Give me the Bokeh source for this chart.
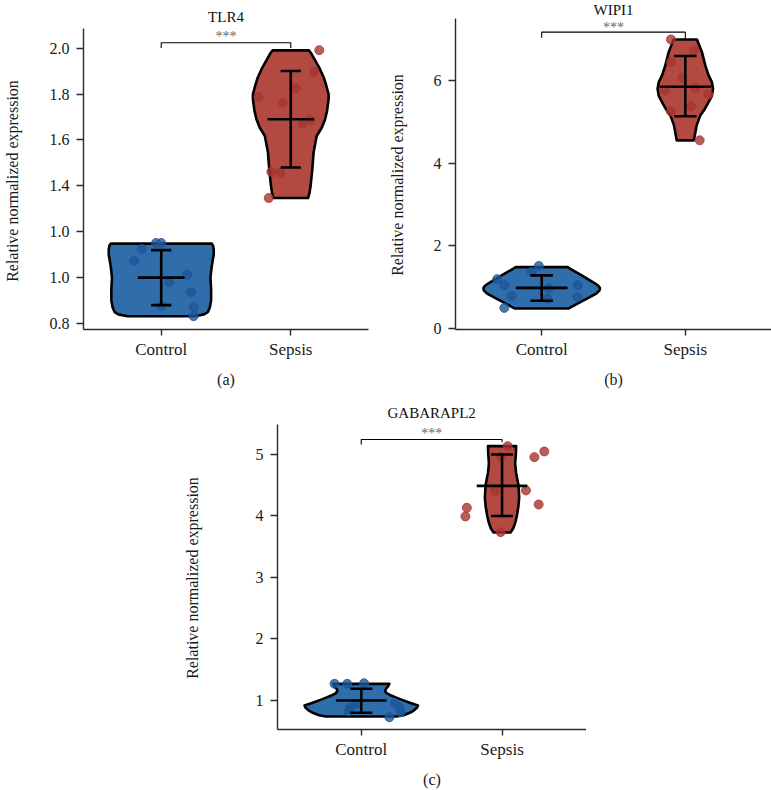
from bokeh.plotting import figure
from bokeh.models import FixedTicker, Label, Spacer
from bokeh.layouts import row, column
from bokeh.embed import file_html
from bokeh.resources import INLINE

groups = ["Control", "Sepsis"]
group_pos = [0, 1]
ylabel = "Relative normalized expression"

# ---- (a) TLR4
tlr4_ctrl = [1.151, 1.151, 1.125, 1.074, 1.013, 0.980, 0.936, 0.875, 0.871, 0.832]
tlr4_ctrl_jitter = [-0.04, 0.00, -0.15, -0.21, 0.20, 0.06, 0.23, 0.00, 0.25, 0.25]
tlr4_seps = [1.991, 1.896, 1.825, 1.787, 1.762, 1.671, 1.687, 1.461, 1.458, 1.347]
tlr4_seps_jitter = [0.22, 0.18, 0.04, -0.25, -0.06, 0.09, 0.15, -0.15, -0.08, -0.17]
tlr4_mean = [1.00, 1.69]
tlr4_sd_low = [0.88, 1.48]
tlr4_sd_high = [1.12, 1.90]
tlr4_ctrl_dens_y = [0.832, 0.840, 0.850, 0.870, 0.900, 0.950, 1.000, 1.050, 1.100, 1.125, 1.140, 1.148]
tlr4_ctrl_dens_w = [0.26, 0.33, 0.36, 0.375, 0.385, 0.385, 0.38, 0.39, 0.405, 0.405, 0.40, 0.39]
tlr4_seps_dens_y = [1.347, 1.37, 1.40, 1.47, 1.545, 1.617, 1.654, 1.69, 1.726, 1.777,
                    1.80, 1.835, 1.87, 1.907, 1.948, 1.975, 1.99]
tlr4_seps_dens_w = [0.134, 0.145, 0.153, 0.166, 0.176, 0.20, 0.24, 0.265, 0.28, 0.292,
                    0.292, 0.275, 0.256, 0.227, 0.187, 0.16, 0.141]
tlr4_ticks = [0.8, 1.0, 1.2, 1.4, 1.6, 1.8, 2.0]
tlr4_tick_labels = ["0.8", "1.0", "1.0", "1.4", "1.6", "1.8", "2.0"]
tlr4_bracket = [2.0, 2.0235, 2.0]

# ---- (b) WIPI1
wipi1_ctrl = [1.518, 1.374, 1.198, 1.053, 0.795, 0.506, 0.973, 0.733, 1.053, 0.771]
wipi1_ctrl_jitter = [-0.02, -0.07, -0.31, -0.26, -0.21, -0.26, 0.05, 0.04, 0.25, 0.25]
wipi1_seps = [6.98, 6.716, 6.434, 6.058, 5.752, 5.807, 5.655, 5.366, 5.246, 4.547]
wipi1_seps_jitter = [-0.10, 0.06, -0.10, -0.02, -0.14, 0.07, 0.16, 0.04, -0.10, 0.10]
wipi1_mean = [0.99, 5.84]
wipi1_sd_low = [0.68, 5.13]
wipi1_sd_high = [1.29, 6.58]
wipi1_ctrl_dens_y = [0.49, 0.55, 0.65, 0.75, 0.85, 0.93, 0.98, 1.04, 1.10, 1.20, 1.30, 1.40, 1.49]
wipi1_ctrl_dens_w = [0.186, 0.218, 0.272, 0.325, 0.38, 0.403, 0.406, 0.395, 0.37, 0.322, 0.273, 0.224, 0.18]
wipi1_seps_dens_y = [4.547, 4.70, 4.908, 5.149, 5.30, 5.47, 5.62, 5.79, 5.95, 6.113, 6.354, 6.675, 6.98]
wipi1_seps_dens_w = [0.06, 0.068, 0.079, 0.104, 0.135, 0.162, 0.185, 0.193, 0.185, 0.162, 0.139, 0.116, 0.081]
wipi1_ticks = [0, 2, 4, 6]
wipi1_tick_labels = ["0", "2", "4", "6"]
wipi1_bracket = [7.02, 7.157, 7.0]

# ---- (c) GABARAPL2
gab_ctrl = [1.271, 1.271, 1.281, 0.946, 0.881, 0.826, 0.956, 0.881, 0.810, 0.728]
gab_ctrl_jitter = [-0.19, -0.10, 0.02, -0.03, -0.08, -0.09, 0.24, 0.27, 0.28, 0.20]
gab_seps = [5.135, 4.967, 4.956, 5.049, 4.403, 4.415, 4.187, 4.133, 3.992, 3.737]
gab_seps_jitter = [0.04, -0.01, 0.23, 0.30, -0.05, 0.17, 0.26, -0.25, -0.26, -0.01]
gab_mean = [1.00, 4.49]
gab_sd_low = [0.80, 4.00]
gab_sd_high = [1.19, 5.00]
gab_ctrl_dens_y = [0.74, 0.76, 0.80, 0.84, 0.88, 0.92, 0.96, 1.01, 1.05, 1.08, 1.12, 1.15, 1.19, 1.23, 1.27]
gab_ctrl_dens_w = [0.25, 0.30, 0.345, 0.375, 0.395, 0.403, 0.35, 0.29, 0.245, 0.213, 0.18, 0.17, 0.175, 0.19, 0.20]
gab_seps_dens_y = [3.73, 3.80, 3.90, 4.00, 4.15, 4.30, 4.50, 4.70, 4.85, 5.00, 5.135]
gab_seps_dens_w = [0.06, 0.08, 0.095, 0.105, 0.116, 0.122, 0.117, 0.10, 0.093, 0.098, 0.10]
gab_ticks = [1, 2, 3, 4, 5]
gab_tick_labels = ["1", "2", "3", "4", "5"]
gab_bracket = [5.16, 5.244, 5.20]

CTRL_FILL = "#2f6eaa"
CTRL_DOT = "#1d5698"
SEPS_FILL = "#b24a42"
SEPS_DOT = "#a63530"
FONT = "Liberation Serif"
MEAN_HALF = 0.18
CAP_HALF = 0.078


def violin_outline(center, dens_y, dens_w):
    xs = [center + w for w in dens_w] + [center - w for w in reversed(dens_w)]
    ys = list(dens_y) + list(reversed(dens_y))
    return xs, ys


def make_panel(title, tag, ctrl, ctrl_jit, seps, seps_jit, ctrl_dens, seps_dens,
               mean, sd_low, sd_high, ticks, tick_labels, bracket,
               x_rng, y_rng, axis_top, width, height, borders, ylab_standoff,
               ylab_pad, title_y, star_y):
    # the frame runs up to the top of the canvas; the y axis line stops at axis_top
    p = figure(width=width, height=height, x_range=x_rng, y_range=y_rng,
               output_backend="svg", toolbar_location=None,
               min_border_left=borders[0], min_border_right=borders[1],
               min_border_top=borders[2], min_border_bottom=borders[3])
    p.outline_line_color = None
    p.grid.visible = False

    # violins
    for g, dens, fill in [(0, ctrl_dens, CTRL_FILL), (1, seps_dens, SEPS_FILL)]:
        xs, ys = violin_outline(g, dens[0], dens[1])
        p.patch(xs, ys, fill_color=fill, line_color="black", line_width=2.6,
                line_join="round")

    # points
    p.scatter([0 + j for j in ctrl_jit], ctrl, size=9, fill_color=CTRL_DOT,
              line_color=CTRL_DOT, fill_alpha=0.8, line_alpha=0.8)
    p.scatter([1 + j for j in seps_jit], seps, size=9, fill_color=SEPS_DOT,
              line_color=SEPS_DOT, fill_alpha=0.8, line_alpha=0.8)

    # mean +/- sd
    p.segment(x0=[g - MEAN_HALF for g in group_pos], y0=mean,
              x1=[g + MEAN_HALF for g in group_pos], y1=mean,
              line_color="black", line_width=2.6)
    p.segment(x0=group_pos, y0=sd_low, x1=group_pos, y1=sd_high,
              line_color="black", line_width=2.6)
    for lim in (sd_low, sd_high):
        p.segment(x0=[g - CAP_HALF for g in group_pos], y0=lim,
                  x1=[g + CAP_HALF for g in group_pos], y1=lim,
                  line_color="black", line_width=2.6)

    # significance bracket
    p.line([0, 0, 1, 1], [bracket[0], bracket[1], bracket[1], bracket[2]],
           line_color="black", line_width=1.1)
    p.add_layout(Label(x=0.5, y=star_y, text="***", text_align="center",
                       text_baseline="middle", text_font=FONT,
                       text_font_size="14px", text_color="#666666"))
    p.add_layout(Label(x=0.5, y=title_y, text=title, text_align="center",
                       text_baseline="middle", text_font=FONT,
                       text_font_size="15px", text_color="#111111"))

    p.xaxis.ticker = FixedTicker(ticks=group_pos)
    p.xaxis.major_label_overrides = dict(zip(group_pos, groups))
    p.xaxis.major_label_text_font = FONT
    p.xaxis.major_label_text_font_size = "17px"
    p.xaxis.major_tick_out = 6
    p.xaxis.major_label_standoff = 4
    p.xaxis.axis_label = tag
    p.xaxis.axis_label_standoff = 9

    p.yaxis.bounds = (y_rng[0], axis_top)
    p.yaxis.ticker = FixedTicker(ticks=ticks)
    p.yaxis.major_label_overrides = dict(zip(ticks, tick_labels))
    p.yaxis.major_label_text_font = FONT
    p.yaxis.major_label_text_font_size = "16px"
    p.yaxis.major_tick_out = 7
    p.yaxis.major_label_standoff = 7
    # the label is centred on the whole frame, so pad its top end to centre it
    # on the drawn part of the axis
    p.yaxis.axis_label = ylabel + "\u00a0" * ylab_pad
    p.yaxis.axis_label_standoff = ylab_standoff

    p.axis.major_tick_in = 0
    p.axis.minor_tick_out = 0
    p.axis.minor_tick_in = 0
    p.axis.axis_line_color = "#2b2b2b"
    p.axis.major_tick_line_color = "#2b2b2b"
    p.axis.axis_line_width = 1.4
    p.axis.major_tick_line_width = 1.4
    p.axis.major_label_text_color = "#1a1a1a"
    p.axis.axis_label_text_font = FONT
    p.axis.axis_label_text_font_style = "normal"
    p.axis.axis_label_text_font_size = "16px"
    p.axis.axis_label_text_color = "#1a1a1a"
    return p


p_a = make_panel("TLR4", "(a)", tlr4_ctrl, tlr4_ctrl_jitter, tlr4_seps, tlr4_seps_jitter,
                 (tlr4_ctrl_dens_y, tlr4_ctrl_dens_w), (tlr4_seps_dens_y, tlr4_seps_dens_w),
                 tlr4_mean, tlr4_sd_low, tlr4_sd_high, tlr4_ticks, tlr4_tick_labels, tlr4_bracket,
                 (-0.6, 1.6), (0.774, 2.2074), 2.086, 385, 390, (76, 17, 0, 61), 26, 8,
                 2.1335, 2.051)

p_b = make_panel("WIPI1", "(b)", wipi1_ctrl, wipi1_ctrl_jitter, wipi1_seps, wipi1_seps_jitter,
                 (wipi1_ctrl_dens_y, wipi1_ctrl_dens_w), (wipi1_seps_dens_y, wipi1_seps_dens_w),
                 wipi1_mean, wipi1_sd_low, wipi1_sd_high, wipi1_ticks, wipi1_tick_labels, wipi1_bracket,
                 (-0.6, 1.6), (-0.015, 7.92), 7.48, 386, 390, (70, 0, 0, 61), 25, 5,
                 7.68, 7.263)

p_c = make_panel("GABARAPL2", "(c)", gab_ctrl, gab_ctrl_jitter, gab_seps, gab_seps_jitter,
                 (gab_ctrl_dens_y, gab_ctrl_dens_w), (gab_seps_dens_y, gab_seps_dens_w),
                 gab_mean, gab_sd_low, gab_sd_high, gab_ticks, gab_tick_labels, gab_bracket,
                 (-0.595, 1.6), (0.528, 6.04), 5.48, 406, 400, (97, 0, 0, 61), 52, 9,
                 5.678, 5.338)

layout = column(row(p_a, p_b), row(Spacer(width=180, height=400), p_c))

open("out.html", "w").write(file_html(layout, INLINE))
